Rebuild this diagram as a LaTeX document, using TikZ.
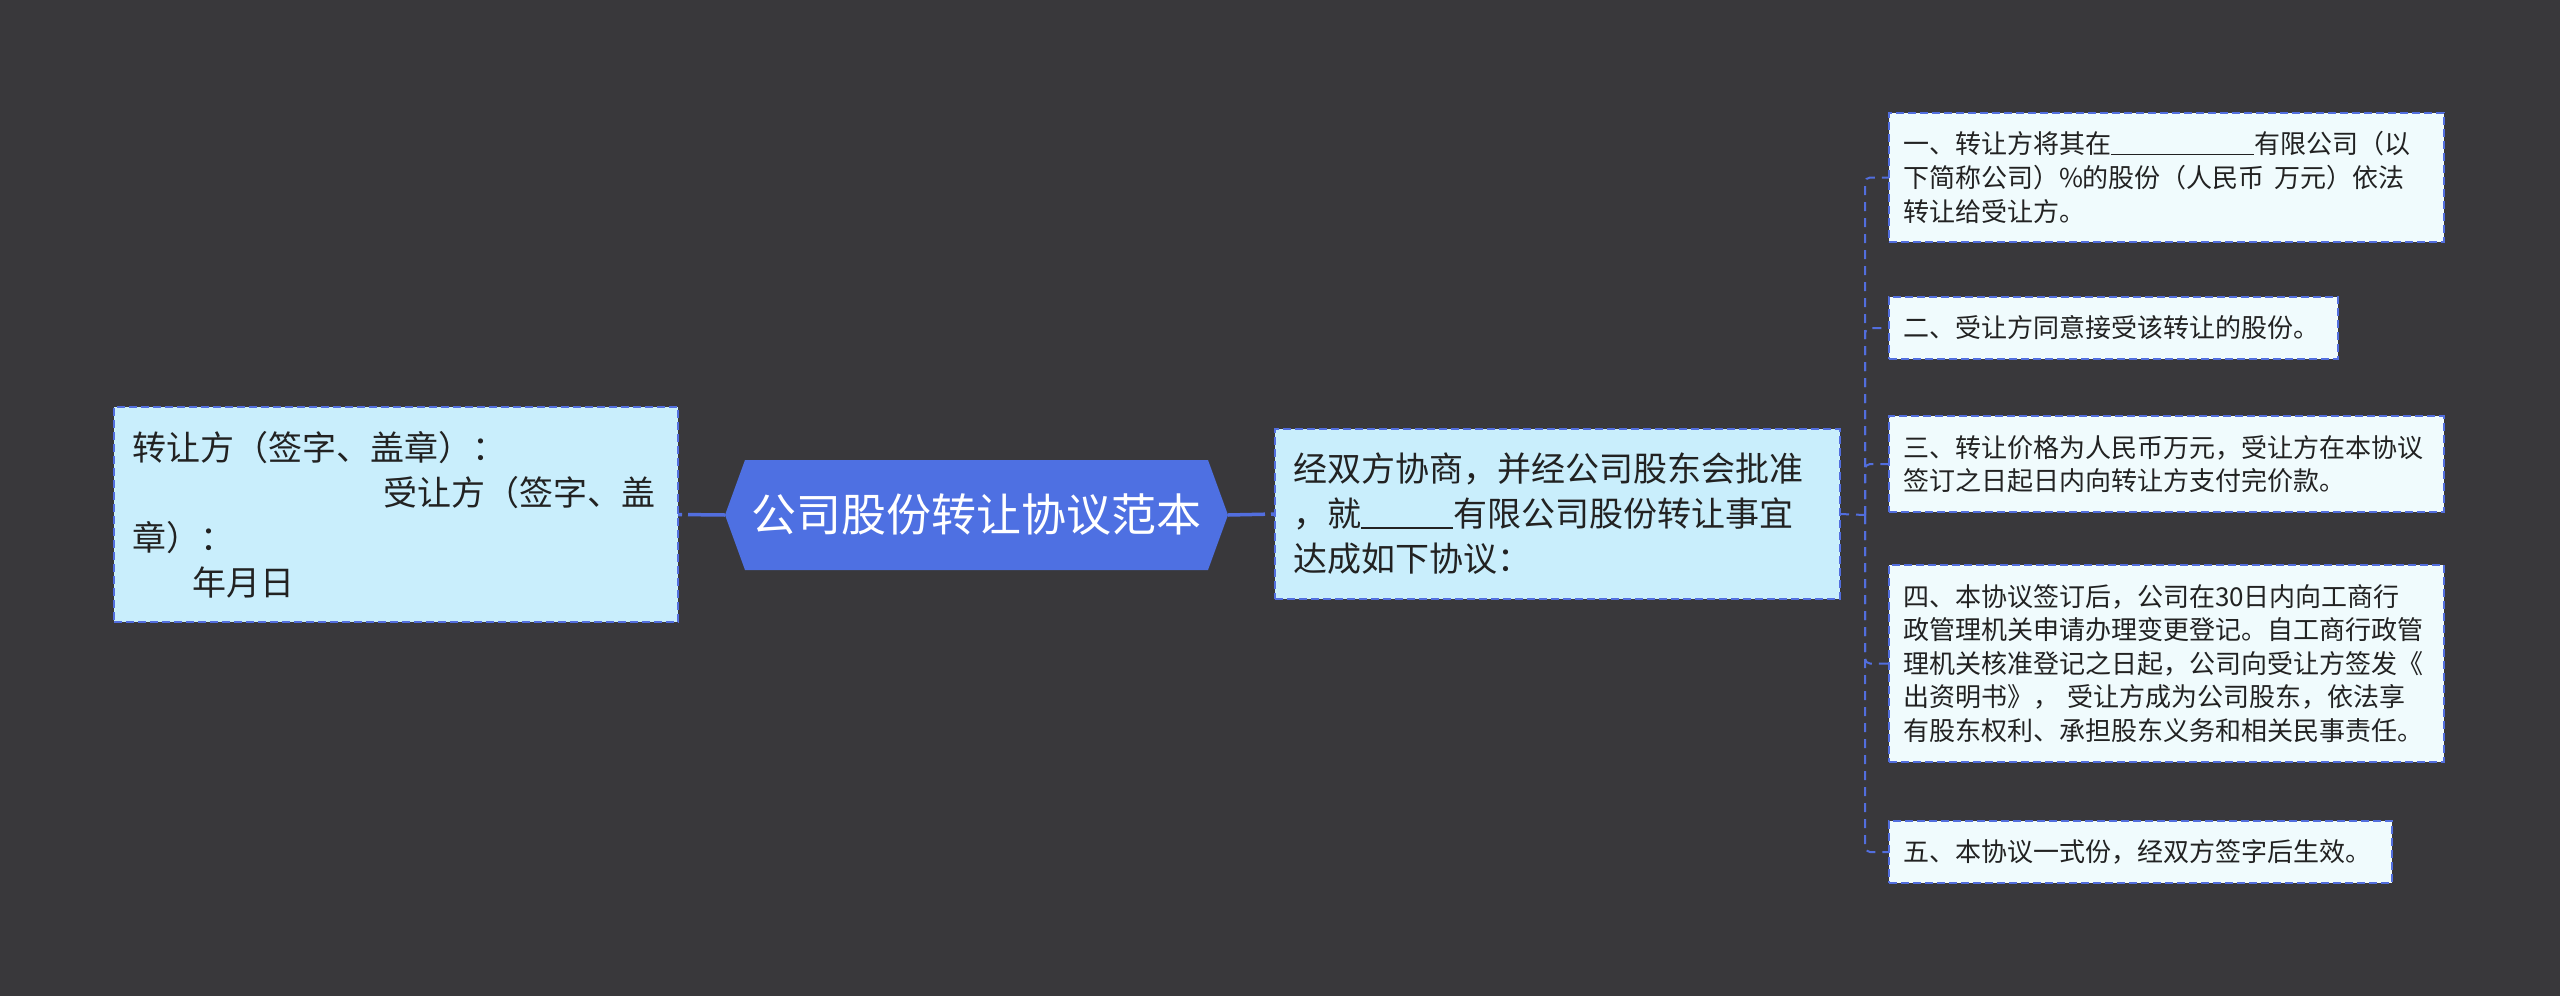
\documentclass[tikz,border=0pt]{standalone}
\usepackage{fontspec}
\setmainfont{Noto Sans CJK SC}
\usetikzlibrary{calc}
\pgfdeclarelayer{bg}
\pgfsetlayers{bg,main}
\definecolor{bgc}{RGB}{57,56,59}
\definecolor{rootc}{RGB}{78,112,226}
\definecolor{edgec}{RGB}{82,110,222}
\definecolor{midfill}{RGB}{201,238,252}
\definecolor{leaffill}{RGB}{240,251,253}
\definecolor{txt}{RGB}{34,34,34}
\begin{document}
\begin{tikzpicture}[x=1pt,y=-1pt,
  boxbase/.style={draw=edgec, line width=2pt, dash pattern=on 8pt off 4pt, text=txt, align=left, anchor=north west, inner ysep=0pt, outer sep=0pt},
  bigbox/.style={boxbase, fill=midfill, inner xsep=18pt, font=\fontsize{34}{45}\selectfont},
  leafbox/.style={boxbase, fill=leaffill, inner xsep=14pt, font=\fontsize{26}{33.6}\selectfont},
  conn/.style={draw=edgec, line width=2pt, dash pattern=on 9pt off 7pt},
  rootconn/.style={draw=edgec, line width=3.5pt, dash pattern=on 37pt off 6pt},
  rootnode/.style={minimum width=503pt, minimum height=110pt, inner sep=0pt, outer sep=0pt, text=white, font=\fontsize{45}{50}\selectfont}
]
\useasboundingbox (0,0) rectangle (2560,996);
\begin{pgfonlayer}{bg}
\fill[bgc] (0,0) rectangle (2560,996);
\end{pgfonlayer}

\node[bigbox, minimum width=564pt, minimum height=215pt, text width=528pt] (lf) at (114,407) {转让方（签字、盖章）：\\\hspace*{251pt}受让方（签字、盖\\章）：\\\hspace*{60pt}年月日};

\node[rootnode] (root) at (976.5,515) {公司股份转让协议范本};
\begin{pgfonlayer}{bg}
\fill[rootc] (root.west) -- ([xshift=20pt]root.north west) -- ([xshift=-20pt]root.north east) -- (root.east) -- ([xshift=-20pt]root.south east) -- ([xshift=20pt]root.south west) -- cycle;
\end{pgfonlayer}

\node[bigbox, minimum width=565pt, minimum height=170pt, text width=529pt] (mid) at (1275,429) {经双方协商，并经公司股东会批准\\，就\rule[-2pt]{92pt}{1.5pt}有限公司股份转让事宜\\达成如下协议：};

\node[leafbox, minimum width=555pt, minimum height=129pt, text width=527pt] (b1) at (1889,113) {一、转让方将其在\rule[-1.5pt]{143pt}{1.3pt}有限公司（以\\下简称公司）\%的股份（人民币\hspace{10pt}万元）依法\\转让给受让方。};
\node[leafbox, minimum width=449pt, minimum height=62pt, text width=421pt] (b2) at (1889,297) {二、受让方同意接受该转让的股份。};
\node[leafbox, minimum width=555pt, minimum height=96pt, text width=527pt] (b3) at (1889,416) {三、转让价格为人民币万元，受让方在本协议\\签订之日起日内向转让方支付完价款。};
\node[leafbox, minimum width=555pt, minimum height=197pt, text width=527pt] (b4) at (1889,565) {四、本协议签订后，公司在30日内向工商行\\政管理机关申请办理变更登记。自工商行政管\\理机关核准登记之日起，公司向受让方签发《\\出资明书》，\hspace{8pt}受让方成为公司股东，依法享\\有股东权利、承担股东义务和相关民事责任。};
\node[leafbox, minimum width=503pt, minimum height=62pt, text width=475pt] (b5) at (1889,821) {五、本协议一式份，经双方签字后生效。};

\coordinate (sp) at (1865,515);
\draw[rootconn] (root.west) -- (lf.east);
\draw[rootconn] (root.east) -- (mid.west);
\draw[conn] (mid.east) -- (sp);
\foreach \b in {b1,b2,b3,b4,b5} \draw[conn, rounded corners=5pt] (sp) |- (\b.west);
\end{tikzpicture}
\end{document}
